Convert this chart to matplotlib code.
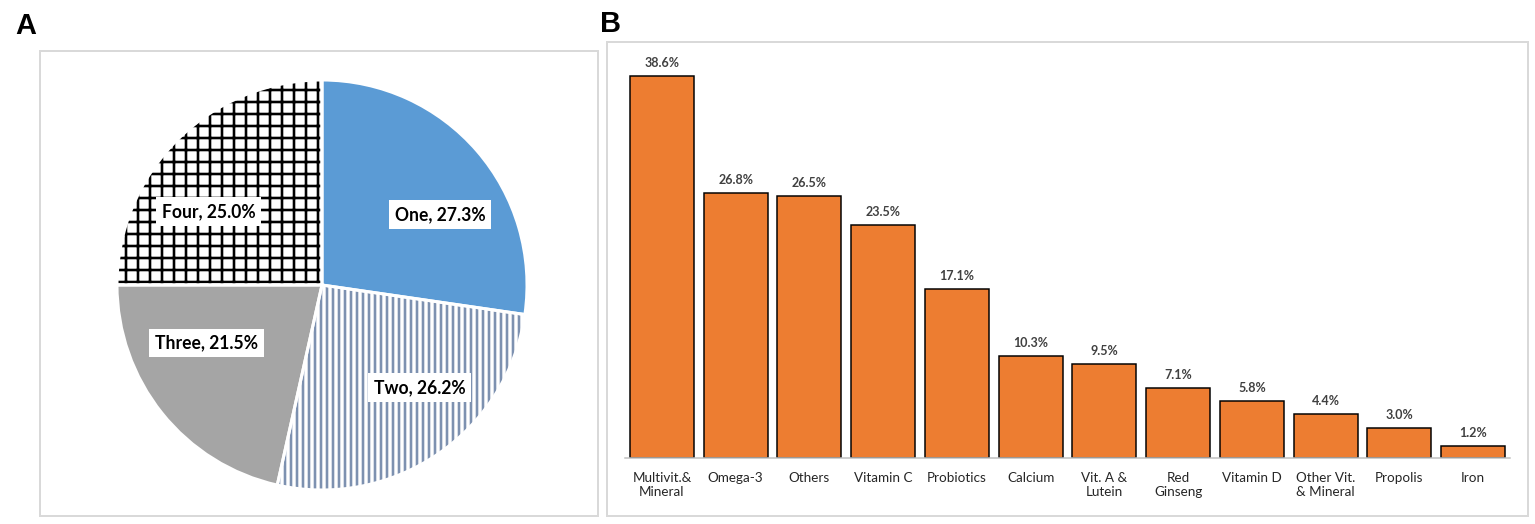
import numpy as np
import matplotlib.pyplot as plt
from matplotlib.patches import Rectangle

# Panel A: numero de suplementos
pie_labels = ['One', 'Two', 'Three', 'Four']
pie_values = [27.3, 26.2, 21.5, 25.0]

# Panel B: tipo de suplemento
bar_labels = ['Multivit.&\nMineral', 'Omega-3', 'Others', 'Vitamin C', 'Probiotics',
              'Calcium', 'Vit. A &\nLutein', 'Red\nGinseng', 'Vitamin D',
              'Other Vit.\n& Mineral', 'Propolis', 'Iron']
bar_values = [38.6, 26.8, 26.5, 23.5, 17.1, 10.3, 9.5, 7.1, 5.8, 4.4, 3.0, 1.2]

plt.rcParams['font.family'] = ['Lato', 'DejaVu Sans']
plt.rcParams['hatch.linewidth'] = 2.6

W, H = 1535, 524
fig = plt.figure(figsize=(W / 72, H / 72), dpi=72)

# marcos grises de cada panel
for (x0, y0, x1, y1) in [(40, 51, 598, 516), (607, 42, 1528, 516)]:
    fig.add_artist(Rectangle((x0 / W, 1 - y1 / H), (x1 - x0) / W, (y1 - y0) / H,
                             transform=fig.transFigure, fill=False,
                             edgecolor='#d9d9d9', linewidth=2))

fig.text(15 / W, 1 - 34 / H, 'A', fontsize=29, fontweight='bold', family='Liberation Sans')
fig.text(600 / W, 1 - 32 / H, 'B', fontsize=29, fontweight='bold', family='Liberation Sans')

# ---- Pie ----
cx, cy, r = 322, 285, 205
ax1 = fig.add_axes([(cx - r) / W, (H - cy - r) / H, 2 * r / W, 2 * r / H])
face = ['#5b9bd5', 'white', '#a5a5a5', 'white']
hatch_col = ['#5b9bd5', '#7d91b0', '#a5a5a5', 'black']
hatches = [None, '||', None, '+']

wedges, _ = ax1.pie(pie_values, startangle=90, counterclock=False,
                    colors=face, wedgeprops=dict(linewidth=0))
for w, hc, h in zip(wedges, hatch_col, hatches):
    w.set_edgecolor(hc)
    w.set_linewidth(0)
    if h:
        w.set_hatch(h)
# bordes blancos encima
ax1.pie(pie_values, startangle=90, counterclock=False, colors=['none'] * 4,
        wedgeprops=dict(linewidth=3, edgecolor='white', fill=False))

# etiquetas con caja blanca
label_r = [0.67, 0.69, 0.63, 0.66]
label_shift = [-10, 9, -12, 12]  # ajuste de angulo para parecerse al original
for w, name, v, rr, sh in zip(wedges, pie_labels, pie_values, label_r, label_shift):
    ang = np.deg2rad((w.theta1 + w.theta2) / 2 + sh)
    ax1.text(rr * np.cos(ang), rr * np.sin(ang), f'{name}, {v:.1f}%',
             ha='center', va='center', fontsize=17.5, fontweight='bold', color='black',
             bbox=dict(facecolor='white', edgecolor='none', pad=6))
ax1.set_xlim(-1, 1)
ax1.set_ylim(-1, 1)
ax1.set_aspect('equal')
ax1.axis('off')

# ---- Barras ----
x_left, x_right, base_y, ymax = 625, 1510, 458, 40
px_per = (458 - 76) / 38.6
ax2 = fig.add_axes([x_left / W, (H - base_y) / H, (x_right - x_left) / W,
                    ymax * px_per / H])
x = np.arange(len(bar_values))
bars = ax2.bar(x, bar_values, width=0.865, color='#ed7d31', edgecolor='black', linewidth=1.5)
ax2.bar_label(bars, labels=[f'{v:.1f}%' for v in bar_values], padding=7,
              fontsize=12.5, fontweight='bold', color='#404040')
ax2.set_xlim(-0.5, len(bar_values) - 0.5)
ax2.set_ylim(0, ymax)
ax2.set_xticks(x)
ax2.set_xticklabels(bar_labels, fontsize=13.5, color='#262626', linespacing=1.2)
ax2.tick_params(axis='x', length=0, pad=14)
ax2.set_yticks([])
for s in ['top', 'right', 'left']:
    ax2.spines[s].set_visible(False)
ax2.spines['bottom'].set_color('#bfbfbf')
ax2.spines['bottom'].set_linewidth(1.5)

fig.savefig('out.png', dpi=72)
